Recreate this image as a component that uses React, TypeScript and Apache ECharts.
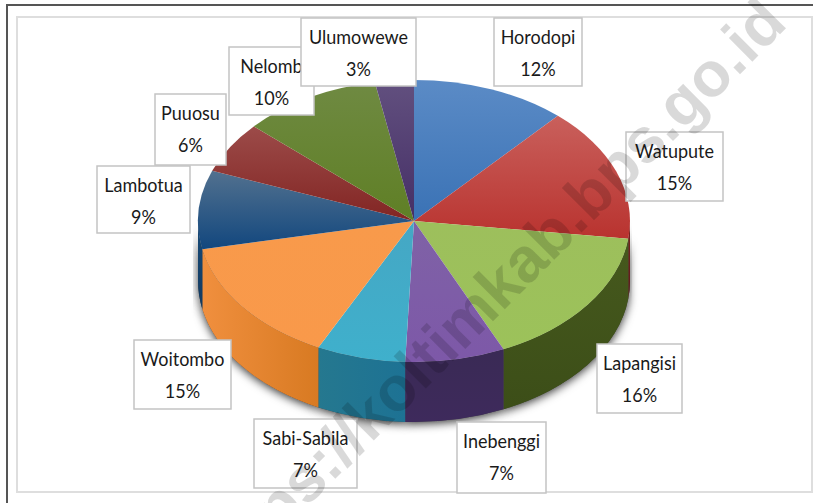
import React, { useEffect, useRef } from "react";
import * as echarts from "echarts";

const categories = ["Horodopi", "Watupute", "Lapangisi", "Inebenggi", "Sabi-Sabila", "Woitombo", "Lambotua", "Puuosu", "Nelomb", "Ulumowewe"];
const values = [11.6, 15.4, 16.2, 7.45, 6.65, 14.5, 9.0, 5.9, 10.4, 2.9];
const topColors = [
  ["#5b8bc6", "#3a72b5"], ["#c9605c", "#b9332f"], ["#9dbf5c", "#9cc25a"], ["#7f62a6", "#7d58a8"], ["#45a7c4", "#3fb0cc"],
  ["#f89a4b", "#f9994a"], ["#52718f", "#12477e"], ["#9c4b49", "#822523"], ["#6f8a42", "#5f7f25"], ["#62507f", "#452f66"],
];
const sideColors = [
  ["#2b4c78", "#2b4c78"], ["#7a2320", "#5c1a18"], ["#46591d", "#3c4e18"], ["#3a2a55", "#3e2a5c"], ["#25788f", "#1d7294"],
  ["#f08f3e", "#d87a22"], ["#174a78", "#123a60"], ["#6e2220", "#6e2220"], ["#4a5f20", "#4a5f20"], ["#382650", "#382650"],
];
// box left, top, right, bottom of each data label
const labelBoxes = [
  [494, 18, 582, 86], [626, 132, 723, 201], [597, 344, 682, 413], [457, 422, 546, 493], [254, 419, 357, 488],
  [134, 340, 231, 409], [97, 166, 190, 233], [155, 94, 226, 165], [229, 47, 314, 115], [301, 18, 416, 86],
];

const CX = 414, CY = 221, RX = 216, RY = 141, DEPTH = 60;
const FONT = '20px Lato, "Liberation Sans", sans-serif';
const total = values.reduce((a, b) => a + b, 0);
const startAngle = (i: number) => (values.slice(0, i).reduce((a, b) => a + b, 0) / total) * Math.PI * 2;
const px = (a: number) => CX + RX * Math.sin(a);
const py = (a: number, d = 0) => CY - RY * Math.cos(a) + d;

function topPath(a0: number, a1: number) {
  const large = a1 - a0 > Math.PI ? 1 : 0;
  return `M${CX} ${CY}L${px(a0)} ${py(a0)}A${RX} ${RY} 0 ${large} 1 ${px(a1)} ${py(a1)}Z`;
}
function wallPath(a0: number, a1: number) {
  const lo = Math.max(a0, Math.PI / 2), hi = Math.min(a1, (Math.PI * 3) / 2);
  if (hi <= lo) return null;
  return `M${px(lo)} ${py(lo)}A${RX} ${RY} 0 0 1 ${px(hi)} ${py(hi)}L${px(hi)} ${py(hi, DEPTH)}A${RX} ${RY} 0 0 0 ${px(lo)} ${py(lo, DEPTH)}Z`;
}
const grad = (horizontal: boolean, c: string[]) =>
  new echarts.graphic.LinearGradient(0, 0, horizontal ? 1 : 0, horizontal ? 0 : 1, [
    { offset: 0, color: c[0] },
    { offset: 1, color: c[1] },
  ]);

const seriesData = values.map((v, i) => ({ name: categories[i], value: v }));

export default function App() {
  const ref = useRef<HTMLDivElement>(null);
  useEffect(() => {
    const chart = echarts.init(ref.current!, null, { renderer: "svg" });
    const wall = (shadow: boolean) => (params: any) => {
      const i = params.dataIndex;
      const d = wallPath(startAngle(i), startAngle(i + 1));
      if (!d) return { type: "group", children: [] };
      return {
        type: "path",
        shape: { pathData: d },
        style: shadow
          ? { fill: "#444", shadowBlur: 10, shadowColor: "rgba(0,0,0,0.8)", shadowOffsetY: 2 }
          : { fill: grad(i === 5 || i === 4, sideColors[i]) },
      };
    };
    const tx = (text: string, x: number, y: number) => ({
      type: "text", x, y, scaleX: 0.9, originX: 0, originY: 0,
      style: { text, x: 0, y: 0, font: FONT, fill: "#1a1a1a", align: "center", verticalAlign: "middle" },
    });
    chart.setOption({
      animation: false,
      backgroundColor: "#ffffff",
      series: [
        { type: "custom", coordinateSystem: "none", z: 1, silent: true, data: seriesData, renderItem: wall(true) },
        { type: "custom", coordinateSystem: "none", z: 2, silent: true, data: seriesData, renderItem: wall(false) },
        {
          type: "custom", coordinateSystem: "none", z: 3, silent: true, data: seriesData,
          renderItem: (params: any) => {
            const i = params.dataIndex;
            return {
              type: "path",
              shape: { pathData: topPath(startAngle(i), startAngle(i + 1)) },
              style: { fill: grad(false, topColors[i]) },
            };
          },
        },
        {
          type: "custom", coordinateSystem: "none", z: 5, silent: true, data: seriesData,
          renderItem: (params: any) => {
            const i = params.dataIndex;
            const [l, t, r, b] = labelBoxes[i];
            const mid = (l + r) / 2;
            return {
              type: "group",
              children: [
                { type: "rect", shape: { x: l, y: t, width: r - l, height: b - t }, style: { fill: "#fff", stroke: "#c4c4c4", lineWidth: 1.5 } },
                tx(categories[i], mid, t + 18),
                tx(Math.round(values[i]) + "%", mid, t + 50),
              ],
            };
          },
        },
      ],
      graphic: {
        elements: [
          { type: "rect", z: 0, silent: true, shape: { x: 17, y: 17, width: 795, height: 475 }, style: { fill: "none", stroke: "#dedede", lineWidth: 2 } },
          { type: "line", z: 0, silent: true, shape: { x1: 6, y1: 5, x2: 813, y2: 5 }, style: { stroke: "#555", lineWidth: 2 } },
          { type: "line", z: 0, silent: true, shape: { x1: 7, y1: 5, x2: 7, y2: 503 }, style: { stroke: "#555", lineWidth: 2 } },
          {
            type: "text", z: 100, silent: true, x: 490, y: 293, rotation: Math.PI / 4,
            style: { text: "https://koltimkab.bps.go.id", font: 'bold 63px "Liberation Sans", Arial, sans-serif', fill: "rgba(0,0,0,0.15)", align: "center", verticalAlign: "middle" },
          },
        ],
      },
    });
    return () => chart.dispose();
  }, []);
  return <div ref={ref} style={{ position: "absolute", left: 0, top: 0, width: 813, height: 503 }} />;
}
